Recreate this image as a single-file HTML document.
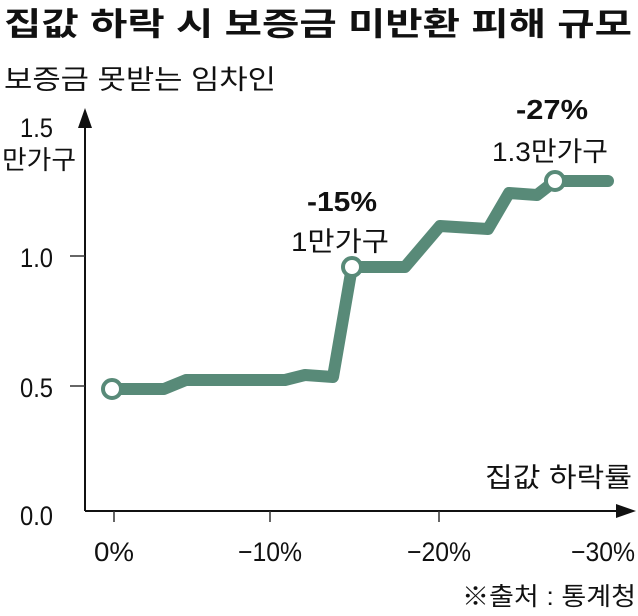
<!DOCTYPE html>
<html><head><meta charset="utf-8"><style>
body{margin:0;background:#fff;}
svg text{font-family:"Liberation Sans","Noto Sans CJK KR",sans-serif;fill:#111;}
</style></head><body>
<svg width="638" height="611" viewBox="0 0 638 611" xmlns="http://www.w3.org/2000/svg">
<text x="4" y="35" font-size="32" font-weight="bold" textLength="628" lengthAdjust="spacingAndGlyphs">집값 하락 시 보증금 미반환 피해 규모</text>
<text x="4" y="89" font-size="27" textLength="272" lengthAdjust="spacingAndGlyphs">보증금 못받는 임차인</text>
<text x="20" y="137" font-size="27" textLength="33" lengthAdjust="spacingAndGlyphs">1.5</text>
<text x="2" y="169" font-size="26" textLength="74" lengthAdjust="spacingAndGlyphs">만가구</text>
<text x="20" y="267" font-size="27" textLength="33" lengthAdjust="spacingAndGlyphs">1.0</text>
<text x="20" y="397" font-size="27" textLength="33" lengthAdjust="spacingAndGlyphs">0.5</text>
<text x="20" y="525" font-size="27" textLength="33" lengthAdjust="spacingAndGlyphs">0.0</text>
<line x1="85" y1="118" x2="85" y2="511" stroke="#111" stroke-width="2"/>
<polygon points="85,108 78,128 92,128" fill="#111"/>
<line x1="85" y1="511" x2="626" y2="511" stroke="#111" stroke-width="2"/>
<polygon points="636,511 616,504 616,518" fill="#111"/>
<g stroke="#333" stroke-width="1.5">
<line x1="70" y1="256" x2="85" y2="256"/><line x1="70" y1="386" x2="85" y2="386"/>
<line x1="114" y1="511" x2="114" y2="522"/><line x1="270" y1="511" x2="270" y2="522"/>
<line x1="439" y1="511" x2="439" y2="522"/>
</g>
<text x="114" y="561" font-size="27" text-anchor="middle" textLength="40" lengthAdjust="spacingAndGlyphs">0%</text>
<text x="270" y="561" font-size="27" text-anchor="middle" textLength="64" lengthAdjust="spacingAndGlyphs">−10%</text>
<text x="439" y="561" font-size="27" text-anchor="middle" textLength="64" lengthAdjust="spacingAndGlyphs">−20%</text>
<text x="603" y="561" font-size="27" text-anchor="middle" textLength="64" lengthAdjust="spacingAndGlyphs">−30%</text>
<text x="485" y="487" font-size="27" textLength="147" lengthAdjust="spacingAndGlyphs">집값 하락률</text>
<text x="462" y="605" font-size="25" textLength="174" lengthAdjust="spacingAndGlyphs">※출처 : 통계청</text>
<polyline points="112,389 164,389 186,380 285,380 305,375 333,377 352,267 405,267 440,226 488,229 509,193 537,195 555,181 608,181" fill="none" stroke="#588a78" stroke-width="12" stroke-linejoin="round" stroke-linecap="round"/>
<circle cx="112" cy="389" r="9" fill="#fff" stroke="#588a78" stroke-width="4"/>
<circle cx="352" cy="267" r="9" fill="#fff" stroke="#588a78" stroke-width="4"/>
<circle cx="555" cy="181" r="9" fill="#fff" stroke="#588a78" stroke-width="4"/>
<text x="342" y="211" font-size="28" font-weight="bold" text-anchor="middle" textLength="70" lengthAdjust="spacingAndGlyphs">-15%</text>
<text x="340" y="251" font-size="27" text-anchor="middle" textLength="98" lengthAdjust="spacingAndGlyphs">1만가구</text>
<text x="552" y="119" font-size="28" font-weight="bold" text-anchor="middle" textLength="72" lengthAdjust="spacingAndGlyphs">-27%</text>
<text x="550" y="161" font-size="27" text-anchor="middle" textLength="116" lengthAdjust="spacingAndGlyphs">1.3만가구</text>
</svg>
</body></html>
